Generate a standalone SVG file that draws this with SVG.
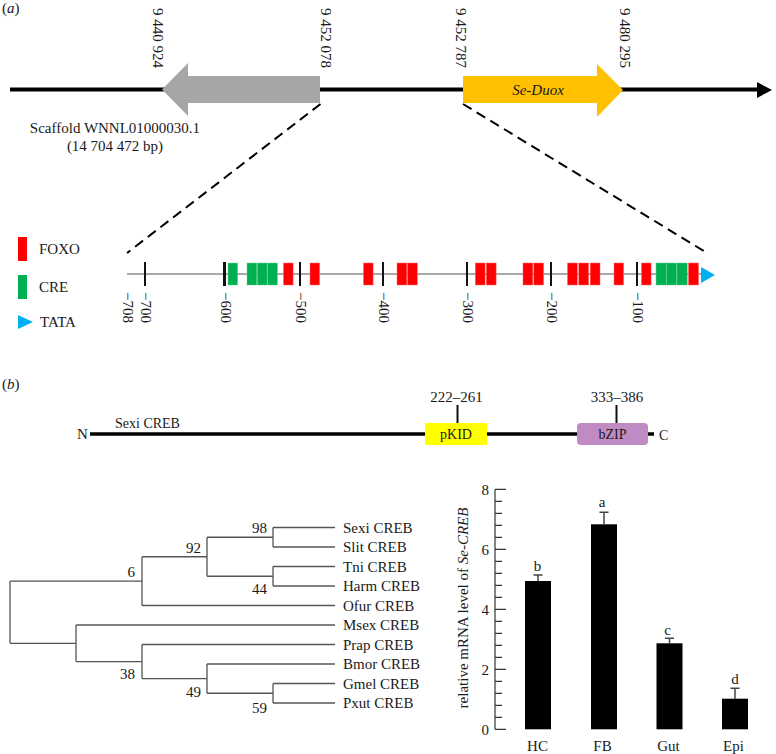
<svg xmlns="http://www.w3.org/2000/svg" width="776" height="754" viewBox="0 0 776 754">
<style>
text{font-family:"Liberation Serif","Times New Roman",serif;font-size:15px;fill:#1a1a1a}
.it{font-style:italic}
.tick{stroke:#111;stroke-width:2}
.red{fill:#ff0000;stroke:#ff6a6a;stroke-width:0.5}
.grn{fill:#00b050;stroke:#5fcf8f;stroke-width:0.5}
.tree{stroke:#555;stroke-width:1.3;fill:none}
.ax{stroke:#333;stroke-width:1.2;fill:none}
.err{stroke:#444;stroke-width:1.5;fill:none}
.bar{fill:#000}
</style>
<rect width="776" height="754" fill="#fff"/>

<!-- Panel a -->
<text x="2" y="13">(<tspan class="it">a</tspan>)</text>
<g id="scaffold">
<line x1="10" y1="89.5" x2="760" y2="89.5" stroke="#000" stroke-width="4"/>
<polygon points="757,82 772,90 757,98" fill="#000"/>
<text x="115" y="133" text-anchor="middle">Scaffold WNNL01000030.1</text>
<text x="115" y="151" text-anchor="middle">(14 704 472 bp)</text>
</g>
<g id="gene-grey">
<polygon points="162,89.5 188,63 188,76 320,76 320,103 188,103 188,116" fill="#a8a5a5"/>
<text transform="translate(153,8) rotate(90)">9 440 924</text>
<text transform="translate(320.5,8) rotate(90)">9 452 078</text>
</g>
<g id="gene-duox">
<polygon points="463,76 597,76 597,64 623,90 597,117 597,103 463,103" fill="#ffc000"/>
<text x="538" y="95" text-anchor="middle" class="it">Se-Duox</text>
<text transform="translate(455.5,8) rotate(90)">9 452 787</text>
<text transform="translate(619.5,8) rotate(90)">9 480 295</text>
</g>
<g id="zoom-lines" stroke="#000" stroke-width="2" stroke-dasharray="10,6" fill="none">
<line x1="320.5" y1="104" x2="127" y2="253"/>
<line x1="463" y1="104" x2="707" y2="253"/>
</g>

<g id="legend">
<rect x="18" y="237" width="9" height="24" fill="#ff0000"/>
<text x="39" y="254">FOXO</text>
<rect x="18" y="275" width="9" height="24" fill="#00b050"/>
<text x="39" y="292">CRE</text>
<polygon points="18,315 33,322 18,329" fill="#00b0f0"/>
<text x="40" y="327">TATA</text>
</g>

<g id="promoter">
<line x1="127" y1="274" x2="702" y2="274" stroke="#555" stroke-width="1.2"/>
<line class="tick" x1="145" y1="262" x2="145" y2="286"/>
<line class="tick" x1="224.5" y1="262" x2="224.5" y2="286" style="stroke-width:3"/>
<line class="tick" x1="300" y1="262" x2="300" y2="286"/>
<line class="tick" x1="383" y1="262" x2="383" y2="286"/>
<line class="tick" x1="467" y1="262" x2="467" y2="286"/>
<line class="tick" x1="551" y1="262" x2="551" y2="286"/>
<line class="tick" x1="637" y1="262" x2="637" y2="286"/>
<text transform="translate(123.3,292) rotate(90)">−708</text>
<text transform="translate(141.3,292) rotate(90)">−700</text>
<text transform="translate(220.8,292) rotate(90)">−600</text>
<text transform="translate(296.3,292) rotate(90)">−500</text>
<text transform="translate(379.3,292) rotate(90)">−400</text>
<text transform="translate(463.3,292) rotate(90)">−300</text>
<text transform="translate(547.3,292) rotate(90)">−200</text>
<text transform="translate(633.3,292) rotate(90)">−100</text>
<rect class="grn" x="228" y="263" width="9.6" height="22"/>
<rect class="grn" x="247" y="263" width="9.8" height="22"/>
<rect class="grn" x="257.3" y="263" width="9.8" height="22"/>
<rect class="grn" x="267.6" y="263" width="9.8" height="22"/>
<rect class="red" x="283.5" y="263" width="9.6" height="22"/>
<rect class="red" x="310" y="263" width="9.6" height="22"/>
<rect class="red" x="363.5" y="263" width="9.6" height="22"/>
<rect class="red" x="397" y="263" width="9.8" height="22"/>
<rect class="red" x="407.5" y="263" width="9.8" height="22"/>
<rect class="red" x="475.3" y="263" width="9.8" height="22"/>
<rect class="red" x="486.3" y="263" width="9.8" height="22"/>
<rect class="red" x="523" y="263" width="9.8" height="22"/>
<rect class="red" x="533.8" y="263" width="9.8" height="22"/>
<rect class="red" x="567.5" y="263" width="9.8" height="22"/>
<rect class="red" x="578.8" y="263" width="9.8" height="22"/>
<rect class="red" x="590.2" y="263" width="9.8" height="22"/>
<rect class="red" x="614" y="263" width="9.6" height="22"/>
<rect class="red" x="641.5" y="263" width="9.6" height="22"/>
<rect class="grn" x="656" y="263" width="10.2" height="22"/>
<rect class="grn" x="666.5" y="263" width="10.2" height="22"/>
<rect class="grn" x="677" y="263" width="10.2" height="22"/>
<rect class="red" x="688.5" y="263" width="10" height="22"/>
<polygon points="701,267 715,275 701,283" fill="#00b0f0"/>
</g>

<!-- Panel b -->
<text x="2" y="389">(<tspan class="it">b</tspan>)</text>
<g id="domain">
<line x1="90" y1="434" x2="654" y2="434" stroke="#000" stroke-width="3.5"/>
<text x="77" y="439">N</text>
<text x="115" y="428" style="font-size:14px">Sexi CREB</text>
<text x="659" y="440" style="font-size:14px">C</text>
<line x1="457.5" y1="405" x2="457.5" y2="423" stroke="#111" stroke-width="2"/>
<line x1="616.5" y1="405" x2="616.5" y2="423" stroke="#111" stroke-width="2"/>
<text x="456.5" y="402" text-anchor="middle">222–261</text>
<text x="617" y="402" text-anchor="middle">333–386</text>
</g>
<g id="pKID">
<rect x="425" y="423" width="62" height="22" fill="#ffff00"/>
<text x="456" y="439" text-anchor="middle" style="font-size:14px">pKID</text>
</g>
<g id="bZIP">
<rect x="577" y="423" width="71" height="22" rx="4" fill="#c08ac2"/>
<text x="612.5" y="439" text-anchor="middle" style="font-size:14px">bZIP</text>
</g>

<g id="tree">
<path class="tree" d="M273,527.5H335M273,547H335M273,527.5V547
M273,566.5H335M273,586H335M273,566.5V586
M207,537.25H273M207,576.25H273M207,537.25V576.25
M142,556.75H207M142,605.5H335M142,556.75V605.5
M10,581.1H142M10,643.3H76M10,581.1V643.3
M76,625H335M76,661.6H142M76,625V661.6
M142,644.5H335M142,678.6H207M142,644.5V678.6
M207,664H335M207,693.25H273M207,664V693.25
M273,683.5H335M273,703H335M273,683.5V703"/>
<text x="267" y="533" text-anchor="end">98</text>
<text x="201" y="553" text-anchor="end">92</text>
<text x="135" y="577" text-anchor="end">6</text>
<text x="267" y="594" text-anchor="end">44</text>
<text x="135" y="679" text-anchor="end">38</text>
<text x="201" y="697" text-anchor="end">49</text>
<text x="267" y="713" text-anchor="end">59</text>
<text x="343" y="532.5">Sexi CREB</text>
<text x="343" y="552">Slit CREB</text>
<text x="343" y="571.5">Tni CREB</text>
<text x="343" y="591">Harm CREB</text>
<text x="343" y="610.5">Ofur CREB</text>
<text x="343" y="630">Msex CREB</text>
<text x="343" y="649.5">Prap CREB</text>
<text x="343" y="669">Bmor CREB</text>
<text x="343" y="688.5">Gmel CREB</text>
<text x="343" y="708">Pxut CREB</text>
</g>

<g id="chart">
<line class="ax" x1="495" y1="489.3" x2="495" y2="729.3"/>
<path class="ax" d="M495,729.3h11M495,669.3h11M495,609.3h11M495,549.3h11M495,489.3h11
M495,717.3h7M495,705.3h7M495,693.3h7M495,681.3h7
M495,657.3h7M495,645.3h7M495,633.3h7M495,621.3h7
M495,597.3h7M495,585.3h7M495,573.3h7M495,561.3h7
M495,537.3h7M495,525.3h7M495,513.3h7M495,501.3h7"/>
<text x="489" y="734.5" text-anchor="end">0</text>
<text x="489" y="674.5" text-anchor="end">2</text>
<text x="489" y="614.5" text-anchor="end">4</text>
<text x="489" y="554.5" text-anchor="end">6</text>
<text x="489" y="494.5" text-anchor="end">8</text>
<text transform="translate(468,608) rotate(-90)" text-anchor="middle">relative mRNA level of <tspan class="it">Se-CREB</tspan></text>
<path class="err" d="M538,581V575M533.5,575H542.5M604,524.3V512.3M599.5,512.3H608.5M669.5,643.3V638.3M665,638.3H674M735,698.7V688.3M730.5,688.3H739.5"/>
<rect class="bar" x="525" y="581" width="26" height="148.3"/>
<rect class="bar" x="591" y="524.3" width="26" height="205"/>
<rect class="bar" x="656.5" y="643.3" width="26" height="86"/>
<rect class="bar" x="722" y="698.7" width="26" height="30.6"/>
<text x="537.5" y="570.5" text-anchor="middle">b</text>
<text x="602" y="507" text-anchor="middle">a</text>
<text x="667.5" y="635" text-anchor="middle">c</text>
<text x="735" y="683.5" text-anchor="middle">d</text>
<text x="537.5" y="751" text-anchor="middle">HC</text>
<text x="602.5" y="751" text-anchor="middle">FB</text>
<text x="668.5" y="751" text-anchor="middle">Gut</text>
<text x="733.5" y="751" text-anchor="middle">Epi</text>
</g>
</svg>
